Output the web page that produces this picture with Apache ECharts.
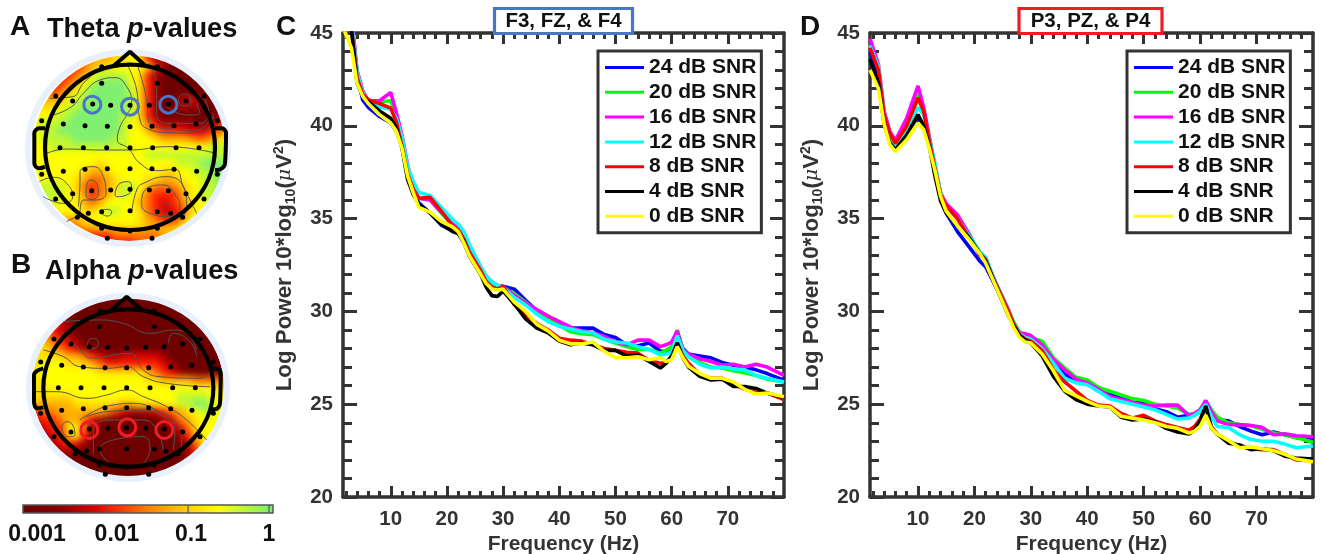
<!DOCTYPE html>
<html><head><meta charset="utf-8">
<style>
html,body{margin:0;padding:0;background:#fff;width:1321px;height:554px;overflow:hidden}
#heatClip{position:absolute;left:0;top:0;width:300px;height:554px;
clip-path:path('M33 148a97 93 0 1 0 194 0a97 93 0 1 0 -194 0Z M32 387a96 90 0 1 0 192 0a96 90 0 1 0 -192 0Z')}
#heat{width:300px;height:554px;filter:blur(3.5px)}
#main{position:absolute;left:0;top:0;width:1321px;height:554px}
</style>
<script src="https://cdn.jsdelivr.net/npm/echarts@6/dist/echarts.min.js"></script>
</head><body>
<div id="heatClip"><div id="heat"></div></div>
<div id="main"></div>
<script>
/* ---------- spectra ---------- */
const freqs=[1.5,3,4,5,6,8,10,11,12,13,14,15,17,19,21,22,23,24,26,27,28,29,30,32,34,36,38,40,42,44,46,48,50,52,54,56,58,59,60,61,62,63,65,67,69,71,73,75,77,80];
const snrNames=['24 dB SNR','20 dB SNR','16 dB SNR','12 dB SNR','8 dB SNR','4 dB SNR','0 dB SNR'];
const snrColors=['#0000ff','#00ff00','#ff00ff','#00ffff','#ff0000','#000000','#ffff00'];
const c24=[47.3,45.6,42.8,41.4,41,40.5,40.15,39.7,38.9,37.4,36.4,35.85,35.3,34.65,34.35,34.2,33.7,33,32,31.5,31.3,31.3,31.35,31.2,30.6,30.05,29.7,29.35,29.1,29.1,29.1,28.75,28.6,28.2,28.15,28.3,27.85,27.85,28.05,28.85,28,27.7,27.6,27.5,27.25,27.1,27,26.85,26.65,26.3];
const c20=[47.3,45.8,42.9,41.8,41.35,41.3,41.35,40.5,39.3,37.7,36.5,36.1,36,35.3,34.65,34.5,34.1,33.4,32.3,31.8,31.5,31.4,31.3,30.95,30.5,30.05,29.6,29.25,28.9,28.8,28.75,28.5,28.3,28.1,27.95,27.95,27.75,27.9,28.1,29,27.9,27.55,27.25,27,26.95,26.8,26.7,26.55,26.35,26.2];
const c16=[47.5,46,43,41.9,41.35,41.35,41.8,40.7,39.5,37.9,36.6,36.1,36,35.35,34.75,34.6,34.25,33.5,32.4,31.9,31.6,31.4,31.35,30.85,30.45,30.1,29.75,29.45,29.15,28.95,28.85,28.65,28.35,28.2,28.45,28.45,28.1,28.2,28.35,28.95,27.9,27.7,27.45,27.3,27.1,27.15,27,27.15,27,26.55];
const c12=[47.2,45.6,42.9,41.8,41.3,41,40.9,40.4,39.4,37.8,37,36.4,36.25,35.6,34.95,34.7,34.3,33.6,32.4,31.9,31.6,31.4,31.3,30.75,30.35,29.85,29.45,29.2,29.05,28.9,28.85,28.5,28.35,28.3,28.1,27.95,27.65,27.7,27.8,28.7,27.9,27.55,27.15,26.95,27,26.9,26.85,26.55,26.4,26.2];
const c8=[47,45.3,42.6,41.7,41.4,41.2,40.95,40.2,38.9,37.4,36.6,36.1,36.15,35.4,34.6,34.4,33.9,33.2,32.2,31.6,31.3,31.2,31.35,30.35,29.85,29.35,29,28.55,28.45,28.4,28.2,28,27.9,27.8,27.75,27.35,27.2,27.3,27.5,28.3,27.6,27.2,26.6,26.4,26.4,26.1,25.8,25.65,25.6,25.25];
const c4=[47,45.2,42.3,41.6,41.3,40.8,40.4,39.9,38.8,37.1,36.3,35.75,35.3,34.7,34.3,34.2,33.8,33,32,31.3,30.85,30.8,31.1,30.4,29.6,29.1,28.85,28.4,28.2,28.3,28.2,27.9,27.9,27.6,27.65,27.3,26.95,27.2,27.6,28.3,27.5,27,26.5,26.3,26.35,25.95,25.95,25.85,25.6,25.35];
const c0=[45.3,44.2,42.3,41.6,41.2,40.6,40.15,39.7,38.8,37.3,36.4,35.6,35.35,34.85,34.55,34.3,33.7,33,32,31.5,31.2,31.15,31.2,30.5,30,29.3,28.95,28.45,28.25,28.25,28.35,27.85,27.5,27.5,27.55,27.4,27.5,27.3,27.4,28.1,27.5,27.05,26.65,26.4,26.4,26.2,25.8,25.55,25.6,25.4];
const d24=[44,42.7,40.3,39.2,38.75,39.3,40.4,40,39,37.6,36.2,35.3,34.3,33.5,32.7,32.4,31.8,31.2,29.9,29.2,28.7,28.6,28.5,28.1,27.3,26.6,26.3,26.1,25.7,25.6,25.4,25.1,25.05,24.75,24.6,24.3,24.4,24.4,24.6,25,24.5,24.15,24.1,23.8,23.55,23.35,23.5,23.35,23.2,23.1];
const d20=[44.4,43.1,40.7,39.7,39.2,40.3,41.7,40.9,39.4,37.8,36.4,35.7,35.1,34.2,33.1,32.9,32.1,31.4,30.1,29.4,28.9,28.7,28.6,28.4,27.5,26.95,26.45,26.3,25.9,25.7,25.5,25.3,25.2,25,24.9,24.8,24.45,24.5,24.7,25.15,24.7,24.3,24,23.9,23.85,23.65,23.45,23.35,23.2,22.95];
const d16=[44.7,43.3,40.8,39.7,39.2,40.4,42.15,41,39.4,37.8,36.4,35.8,35.2,34.2,33,32.8,32.1,31.4,30.1,29.3,28.85,28.8,28.7,28.2,27.4,26.85,26.35,26.15,25.8,25.4,25.25,25.1,24.95,24.9,24.95,24.95,24.4,24.5,24.7,25.2,24.6,24.1,23.9,23.9,23.85,23.75,23.35,23.4,23.3,23.25];
const d12=[44.3,43.2,40.6,39.5,38.9,39.8,41,40.6,39.3,38,36.4,35.6,35,34.1,33.2,32.9,32.1,31.4,30,29.3,28.8,28.6,28.5,28,27.2,26.4,26.15,26.05,25.7,25.3,25.15,25,24.85,24.7,24.45,24.2,24.25,24.4,24.6,25,24.35,23.8,23.75,23.35,23.1,23,23,22.85,22.65,22.75];
const d8=[44.2,43,40.6,39.6,39.05,40,41.5,40.8,39.2,37.7,36.3,35.7,35,34,33.1,32.8,32,31.35,30,29.3,28.75,28.5,28.4,27.9,26.85,26.2,25.7,25.2,24.95,24.9,24.5,24.25,24.4,24.1,23.9,23.75,23.6,23.8,24.2,24.85,23.8,23.4,23,22.75,22.6,22.55,22.55,22.3,22,21.95];
const d4=[43.6,42.3,40.1,39.1,38.7,39.5,40.6,40,38.9,37.3,35.95,35.3,34.6,34,33.1,32.7,32,31.2,29.8,29.2,28.7,28.45,28.3,27.6,26.5,25.7,25.25,25,24.9,24.85,24.3,24.15,24.2,24.05,23.7,23.5,23.4,23.6,24.1,24.9,23.7,23.4,22.9,22.8,22.55,22.6,22.5,22.2,22.1,22.05];
const d0=[43,42,40.1,39,38.6,39.25,40.15,39.8,38.8,37.6,36.2,35.4,34.6,33.9,33.1,32.6,31.9,31.2,29.8,29.1,28.6,28.35,28.3,27.7,26.8,25.75,25.45,25.15,24.9,24.85,24.35,24.25,24.15,24,23.8,23.7,23.45,23.55,23.8,24.4,23.7,23.4,23.05,22.65,22.7,22.6,22.5,22.3,22.05,21.9];
const xMajor=[10,20,30,40,50,60,70];
const xMinor=[2,4,6,8,12,14,16,18,22,24,26,28,32,34,36,38,42,44,46,48,52,54,56,58,62,64,66,68,72,74,76,78];
const yMajor=[20,25,30,35,40,45];
const yMinor=[21,22,23,24,26,27,28,29,31,32,33,34,36,37,38,39,41,42,43,44];

/* ---------- topographic fields: level characters 0 (p=0.001) … 9 (p=1) ---------- */
const levelColors=['#6e0000','#9e0000','#d80000','#ff2000','#ff7000','#ffb000','#ffe000','#ffff00','#c0f830','#80f070'];
const fieldA=[
"4444444555667631100000000","33333345667777631"+"00000000","3333345788887631"+"000000000","3333457899997631"+"000000000",
"3334578999998631"+"000000000","5555788999998631"+"001221000","6667889999998631"+"001110001","7778899999988631"+"000000013",
"6888999999987642"+"111100125","7889999999987754"+"333222345","7888899999887776"+"555544567","7788888888887777"+"777777888",
"7777777777777788888888888","7777777767777777778889999","7777776556777777667788999","7777765445677766556778899",
"8888764345688754445678899","8888765345787643334678898","8887775457777543234577888","6777776678877643223577777",
"5555556777777654334677777","3333345566666655556777777","3333333333444444567777777","3333333333333444567777777"];
const fieldB=[
"0000000000000000000000000","0000000000000000000000000","1111000000000000000000000","3332100000000000000000000",
"4432100000000000000000000","5543210000000000000000000","6654321000000000000000000","6666554321122222100000000",
"6777666543333333210000000","6777777766666654321000000","6777777777777766555544444","6677777777777777777777766",
"6666677777777777778888776","5555566666655666778899877","3445555554321112345678876","2334554210000000124567777",
"1233674100000000012467776","0123573000000000001357777","0012321000000000000146665","0001110000000000000135554",
"0000000000000000000124443","0000000000000000000123332","0000000000000000000000000"];
const electrodesA=[[305,200],[472,200],[305,250],[472,250],[167,288],[218,303],[278,312],[332,316],[390,316],[448,316],[506,312],[558,303],[612,288],[125,362],[190,372],[255,377],[322,379],[390,380],[456,379],[522,377],[588,372],[652,362],[180,443],[250,443],[320,443],[390,443],[458,443],[528,443],[597,443],[125,523],[190,514],[255,508],[322,506],[390,506],[456,506],[522,508],[590,514],[652,523],[167,597],[218,581],[275,572],[332,570],[390,568],[448,570],[505,572],[558,581],[612,597],[232,652],[265,640],[305,635],[390,632],[472,635],[512,640],[548,652],[305,685],[390,693],[472,685],[322,715],[456,715]];
const electrodesB=[[300,183],[462,183],[298,230],[463,230],[162,267],[213,282],[268,290],[323,292],[380,295],[437,292],[493,290],[548,282],[600,267],[122,336],[185,346],[250,351],[315,353],[380,353],[446,353],[512,351],[575,346],[640,336],[175,413],[243,413],[312,413],[380,413],[450,413],[518,413],[586,413],[122,490],[185,481],[250,476],[315,473],[380,473],[446,473],[512,476],[576,481],[640,490],[162,560],[213,546],[268,537],[323,535],[380,533],[437,535],[493,537],[548,546],[600,560],[225,612],[260,603],[298,597],[380,596],[463,597],[498,603],[535,612],[298,645],[380,652],[462,645],[316,673],[446,673]];
const ringsA=[[277,314],[390,320],[505,314]];
const ringsB=[[268,540],[382,532],[493,540]];
const contoursA=[
[[135,462],[200,447],[300,450],[390,450],[500,440],[640,458]],
[[160,345],[215,320],[250,280],[300,240],[345,233],[380,260],[395,310],[380,345],[360,380],[352,420],[385,445],[420,490],[470,512],[525,508],[550,560],[590,640]],
[[150,295],[218,290],[250,250],[300,205]],
[[385,200],[410,270],[418,350],[440,385],[510,398],[600,400],[630,380],[640,340]],
[[410,190],[440,300],[445,360],[490,385],[590,390],[630,360]],
[[445,190],[470,260],[470,340],[500,370],[600,370],[625,330],[610,290]],
[[500,320],[560,345],[600,340],[590,310]],
[[535,295],[550,282],[570,290],[573,310],[555,318],[538,310],[535,295]],
[[235,620],[240,540],[240,515],[280,500],[310,530],[318,580],[285,600],[250,600],[240,640]],
[[258,570],[270,540],[290,550],[295,580],[275,598],[258,585],[258,570]],
[[345,580],[360,550],[385,545],[395,565],[380,585],[350,590],[345,580]],
[[305,632],[320,628],[335,635],[325,648],[310,645],[305,632]],
[[118,545],[160,532],[200,550],[218,590],[190,610],[150,600],[130,590]],
[[425,600],[440,565],[490,555],[530,590],[540,620],[510,650],[450,640],[425,615],[425,600]],
[[395,640],[410,570],[430,550],[500,530],[550,560],[560,620],[540,660]],
[[485,620],[500,610],[515,630],[505,645],[485,625]],
[[200,665],[240,650],[300,680],[420,690]]];
const contoursB=[
[[130,300],[190,320],[240,350],[320,355],[380,350],[430,380],[500,400],[630,410]],
[[105,425],[170,425],[260,445],[320,435],[380,420],[430,440],[500,470],[560,510],[620,570]],
[[180,240],[230,290],[280,325],[340,315],[390,310],[430,360],[480,380],[600,385],[635,360]],
[[190,215],[290,210],[370,220],[450,250],[520,240],[560,250],[590,300]],
[[262,280],[275,265],[295,275],[290,292],[270,296],[262,280]],
[[505,280],[520,250],[570,275],[590,320]],
[[240,510],[290,480],[340,465],[400,460],[470,480],[520,510],[545,560],[540,620]],
[[260,500],[320,485],[420,480],[480,495],[525,540],[520,600]],
[[280,610],[280,540],[330,510],[430,510],[470,540],[490,600]],
[[330,640],[300,600],[340,570],[430,560],[450,600],[430,640]],
[[185,530],[200,515],[218,525],[225,555],[205,560],[188,545],[185,530]]];
const noseA=[[340,198],[390,155],[437,198]];
const noseB=[[335,180],[380,140],[425,180]];
const earsA=[[[135,385],[118,385],[103,400],[103,490],[118,505],[135,500]],[[645,385],[665,385],[678,400],[675,490],[660,508],[645,510]]];
const earsB=[[[130,355],[112,362],[102,375],[102,455],[112,475],[130,472]],[[635,355],[655,358],[662,372],[660,460],[645,478],[632,478]]];
const headA=[[390,442,255,248]], headB=[[385,414,255,236]];
const haloA=[[384,444,300,288]], haloB=[[384,412,297,275]];
const barStops=[[0,'#6b0000'],[.15,'#8a0000'],[.3,'#e00000'],[.33,'#ff1000'],[.5,'#ff8000'],[.62,'#ffc000'],[.78,'#ffff00'],[1,'#70f070']];
const barTicks=[-2,-1,0];
const barLabels=[['0.001',37],['0.01',117],['0.1',191],['1',269]];

/* ---------- heat layer (blurred underneath) ---------- */
const CELL=24;
function cells(field,x0,y0){const out=[];field.forEach((row,r)=>{[...row].forEach((ch,c)=>{
  out.push([x0+c*CELL,y0+r*CELL,+ch,c,r]);});});return out;}
function heatSeries(field,x0,y0,i){
  const nr=field.length;
  return {type:'custom',xAxisIndex:i,yAxisIndex:i,silent:true,clip:false,
    data:cells(field,x0,y0),
    renderItem:(p,api)=>{
      const a=api.coord([api.value(0),api.value(1)]),s=api.size([CELL,CELL]);
      const c=api.value(3),r=api.value(4);let x=a[0],y=a[1],w=s[0]+1,h=s[1]+1;
      if(c===0){x-=s[0];w+=s[0];} if(c===24){w+=s[0];}
      if(r===0){y-=s[1];h+=s[1];} if(r===nr-1){h+=s[1];}
      return {type:'rect',shape:{x,y,width:w,height:h},style:{fill:levelColors[api.value(2)]}};
    }};
}
const NB={outerBoundsMode:'none'};
const topoGrids=[{...NB,left:0,top:0,width:270,height:280},{...NB,left:0,top:250,width:290,height:304}];
const hiddenX=(g,m)=>({type:'value',gridIndex:g,min:0,max:m,show:false});
const hiddenY=(g,m)=>({type:'value',gridIndex:g,min:0,max:m,inverse:true,show:false});
const heat=echarts.init(document.getElementById('heat'),null,{renderer:'canvas'});
heat.setOption({animation:false,grid:topoGrids,
  xAxis:[hiddenX(0,810),hiddenX(1,870)],yAxis:[hiddenY(0,840),hiddenY(1,912)],
  series:[heatSeries(fieldA,96,165,0),heatSeries(fieldB,96,138,1)]});

/* ---------- main layer ---------- */
const INK='#333333';
const grids=[{...NB,left:343,top:33,width:441,height:464},{...NB,left:870,top:33,width:443,height:464},
  topoGrids[0],topoGrids[1],{...NB,left:23,top:505,width:250,height:8}];
function frameX(g){const base={type:'value',gridIndex:g,min:1.5,max:80,splitLine:{show:false}};
  const line={show:true,onZero:false,lineStyle:{color:INK,width:3.5}};
  const tick=(v,l)=>({show:true,inside:true,length:l,customValues:v,lineStyle:{color:INK,width:3}});
  return [
   {...base,position:'bottom',axisLine:line,axisTick:tick(xMajor,11),
    axisLabel:{show:true,customValues:xMajor,color:INK,fontFamily:'Liberation Sans',fontWeight:'bold',fontSize:20.5,margin:11.5},
    name:'Frequency (Hz)',nameLocation:'middle',nameGap:37,nameMoveOverlap:false,
    nameTextStyle:{color:INK,fontFamily:'Liberation Sans',fontWeight:'bold',fontSize:21}},
   {...base,position:'bottom',axisLine:{show:false},axisTick:tick(xMinor,6),axisLabel:{show:false}},
   {...base,position:'top',axisLine:line,axisTick:tick(xMajor,11),axisLabel:{show:false}},
   {...base,position:'top',axisLine:{show:false},axisTick:tick(xMinor,6),axisLabel:{show:false}}];}
function frameY(g,gap){const base={type:'value',gridIndex:g,min:20,max:45,splitLine:{show:false}};
  const line={show:true,onZero:false,lineStyle:{color:INK,width:3.5}};
  const tick=(v,l)=>({show:true,inside:true,length:l,customValues:v,lineStyle:{color:INK,width:3}});
  return [
   {...base,position:'left',axisLine:line,axisTick:tick(yMajor,14),
    axisLabel:{show:true,customValues:yMajor,color:INK,fontFamily:'Liberation Sans',fontWeight:'bold',fontSize:20.5,margin:10},
    name:'{a|Log Power 10*log}{b|10}{a|(}{i|μ}{a|V}{c|2}{a|)}',nameLocation:'middle',nameGap:gap,nameRotate:90,nameMoveOverlap:false,
    nameTextStyle:{rich:{
      a:{color:INK,fontFamily:'Liberation Sans',fontWeight:'bold',fontSize:22.3,lineHeight:26},
      b:{color:INK,fontFamily:'Liberation Sans',fontWeight:'bold',fontSize:14,lineHeight:26,verticalAlign:'bottom'},
      c:{color:INK,fontFamily:'Liberation Sans',fontWeight:'bold',fontSize:14,lineHeight:26,verticalAlign:'top'},
      i:{color:INK,fontFamily:'DejaVu Serif',fontStyle:'italic',fontSize:19,lineHeight:26}}}},
   {...base,position:'left',axisLine:{show:false},axisTick:tick(yMinor,9),axisLabel:{show:false}},
   {...base,position:'right',axisLine:line,axisTick:tick(yMajor,14),axisLabel:{show:false}},
   {...base,position:'right',axisLine:{show:false},axisTick:tick(yMinor,9),axisLabel:{show:false}}];}

const xAxes=[...frameX(0),...frameX(1),hiddenX(2,810),hiddenX(3,870),
  {type:'value',gridIndex:4,min:-3.04,max:0.05,show:false}];
const yAxes=[...frameY(0,45),...frameY(1,45),hiddenY(2,840),hiddenY(3,912),
  {type:'value',gridIndex:4,min:0,max:1,show:false}];
const AX_T=[8,9,10];
const AY_T=[8,9,10];

const series=[];
function spectra(arrays,xi,yi){arrays.forEach((vals,i)=>series.push({
  type:'line',name:snrNames[i],xAxisIndex:xi,yAxisIndex:yi,showSymbol:false,symbol:'none',silent:true,
  color:snrColors[i],lineStyle:{color:snrColors[i],width:3.6},
  data:vals.map((v,k)=>[freqs[k],v])}));}
spectra([c24,c20,c16,c12,c8,c4,c0],0,0);
spectra([d24,d20,d16,d12,d8,d4,d0],4,4);

function ellipseSeries(data,k,stroke,lw){return {type:'custom',xAxisIndex:AX_T[k],yAxisIndex:AY_T[k],silent:true,clip:false,z:5,data,
  renderItem:(p,api)=>{const c=api.coord([api.value(0),api.value(1)]),s=api.size([api.value(2),api.value(3)]);
    return {type:'ellipse',shape:{cx:c[0],cy:c[1],rx:s[0],ry:s[1]},style:{fill:'none',stroke,lineWidth:lw}};}};}
function topo(k,halo,contours,head,nose,ears,el,rings,ringColor){
  const a={xAxisIndex:AX_T[k],yAxisIndex:AY_T[k],silent:true};
  series.push({...ellipseSeries(halo,k,'#e8f1fb',6),z:1});
  contours.forEach(c=>series.push({...a,type:'line',data:c,smooth:0.5,symbol:'none',z:2,lineStyle:{color:'#555',width:1}}));
  series.push(ellipseSeries(head,k,'#000',4.2));
  series.push({...a,type:'line',data:nose,symbol:'none',z:5,lineStyle:{color:'#000',width:4}});
  ears.forEach(c=>series.push({...a,type:'line',data:c,smooth:0.4,symbol:'none',z:5,lineStyle:{color:'#000',width:4}}));
  series.push({...a,type:'scatter',data:el,symbol:'circle',symbolSize:5,z:6,itemStyle:{color:'#000',opacity:1}});
  series.push({...a,type:'scatter',data:rings,symbol:'circle',symbolSize:17,z:7,itemStyle:{color:'rgba(0,0,0,0)',borderColor:ringColor,borderWidth:3,opacity:1}});
}
topo(0,haloA,contoursA,headA,noseA,earsA,electrodesA,ringsA,'#4a76c6');
topo(1,haloB,contoursB,headB,noseB,earsB,electrodesB,ringsB,'#ee1c25');

/* colour bar */
series.push({type:'custom',xAxisIndex:10,yAxisIndex:10,silent:true,clip:false,data:[[-3.04,1,0.05,0]],
  renderItem:(p,api)=>{const a=api.coord([api.value(0),api.value(1)]),b=api.coord([api.value(2),api.value(3)]);
    return {type:'rect',shape:{x:a[0],y:a[1],width:b[0]-a[0],height:b[1]-a[1]},
      style:{stroke:'#555',lineWidth:1.5,fill:new echarts.graphic.LinearGradient(0,0,1,0,barStops.map(s=>({offset:s[0],color:s[1]})))}};}});
series.push({type:'custom',xAxisIndex:10,yAxisIndex:10,silent:true,clip:false,z:3,data:barTicks.map(t=>[t]),
  renderItem:(p,api)=>{const a=api.coord([api.value(0),1]),b=api.coord([api.value(0),0]);
    return {type:'line',shape:{x1:a[0],y1:a[1],x2:b[0],y2:b[1]},style:{stroke:'#555',lineWidth:1.2}};}});

const legendBase={orient:'vertical',top:51,icon:'rect',itemWidth:39,itemHeight:3,itemGap:3.8,padding:[6,5,6,7],
  backgroundColor:'#fff',borderColor:INK,borderWidth:3,borderRadius:0,selectedMode:false,data:snrNames,
  textStyle:{color:'#111',fontFamily:'Liberation Sans',fontWeight:'bold',fontSize:21,lineHeight:21}};
const F='Liberation Sans';
function label(text,x,y,size,color,align){return {type:'text',x,y,silent:true,style:{text,fill:color||'#111',
  font:`bold ${size}px "${F}"`,align:align||'left',verticalAlign:'middle'}};}
function richTitle(a,b,x,y){return {type:'text',x,y,silent:true,style:{text:`{n|${a} }{p|p}{n|${b}}`,align:'left',verticalAlign:'middle',
  rich:{n:{fill:'#111',font:`bold 27.2px "${F}"`},p:{fill:'#111',font:`italic bold 27.2px "${F}"`}}}};}
function boxTitle(t,x,w,color){return [
  {type:'rect',z:20,silent:true,shape:{x,y:8.5,width:w,height:25},style:{fill:'#fff',stroke:color,lineWidth:3.2}},
  {type:'text',z:21,silent:true,x:x+w/2,y:21,style:{text:t,fill:'#111',font:`bold 20.5px "${F}"`,align:'center',verticalAlign:'middle'}}];}

const chart=echarts.init(document.getElementById('main'),null,{renderer:'canvas'});
chart.setOption({animation:false,backgroundColor:'transparent',tooltip:{show:false},
  grid:grids,xAxis:xAxes,yAxis:yAxes,series,
  legend:[{...legendBase,left:598},{...legendBase,left:1127}],
  graphic:[
    label('A',10,27,28,'#111'),richTitle('Theta','-values',47,30),
    label('B',11,265,28,'#111'),richTitle('Alpha','-values',45,272),
    label('C',276,27,28,'#111'),label('D',800,27,28,'#111'),
    ...boxTitle('F3, FZ, & F4',494.5,138,'#4a76c6'),
    ...boxTitle('P3, PZ, & P4',1019,143,'#ee1c25'),
    ...barLabels.map(l=>label(l[0],l[1],535,23,'#111','center'))
  ]});
</script>
</body></html>
